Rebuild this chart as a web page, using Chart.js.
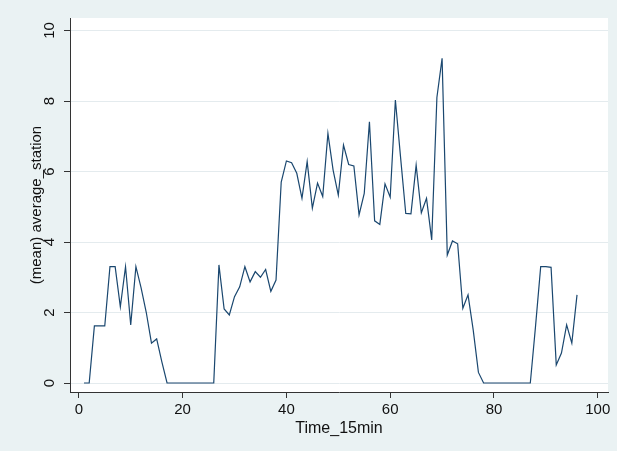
<!DOCTYPE html>
<html>
<head>
<meta charset="utf-8">
<script src="https://cdn.jsdelivr.net/npm/chart.js@4.4.1/dist/chart.umd.min.js"></script>
<style>
  html, body { margin: 0; padding: 0; background: #EAF2F3; }
  #c { display: block; }
</style>
</head>
<body>
<canvas id="c" width="617" height="451"></canvas>
<script>
// Time_15min (1..96)
const timeSlots = [
  1,2,3,4,5,6,7,8,9,10,11,12,13,14,15,16,17,18,19,20,
  21,22,23,24,25,26,27,28,29,30,31,32,33,34,35,36,37,38,39,40,
  41,42,43,44,45,46,47,48,49,50,51,52,53,54,55,56,57,58,59,60,
  61,62,63,64,65,66,67,68,69,70,71,72,73,74,75,76,77,78,79,80,
  81,82,83,84,85,86,87,88,89,90,91,92,93,94,95,96
];
// (mean) average_station
const averageStation = [
  0,0,1.62,1.62,1.62,3.3,3.3,2.16,3.3,1.65,3.3,2.7,2.0,1.13,1.25,0.6,0,0,0,0,
  0,0,0,0,0,0,3.35,2.1,1.93,2.45,2.73,3.3,2.87,3.16,3.0,3.22,2.6,2.92,5.7,6.3,
  6.25,5.95,5.24,6.28,4.96,5.67,5.29,7.08,6.04,5.33,6.75,6.2,6.16,4.77,5.38,7.41,4.6,4.5,5.65,5.27,
  8.03,6.4,4.81,4.8,6.18,4.83,5.24,4.06,8.1,9.21,3.63,4.03,3.95,2.12,2.5,1.5,0.3,0,0,0,
  0,0,0,0,0,0,0,1.6,3.3,3.3,3.28,0.51,0.85,1.65,1.13,2.5
];
const xTicks = [0, 20, 40, 60, 80, 100];
const yTicks = [0, 2, 4, 6, 8, 10];
const xTitle = 'Time_15min';
const yTitle = '(mean) average_station';

const FONT = "'Liberation Sans', Arial, sans-serif";

const bgPlugin = {
  id: 'bg',
  beforeDraw(chart) {
    const ctx = chart.ctx;
    ctx.save();
    ctx.fillStyle = '#EAF2F3';
    ctx.fillRect(0, 0, chart.width, chart.height);
    const a = chart.chartArea;
    ctx.fillStyle = '#FFFFFF';
    ctx.fillRect(a.left, a.top, a.right - a.left, a.bottom - a.top);
    ctx.restore();
  }
};

const yLabelPlugin = {
  id: 'yRotLabels',
  afterDraw(chart) {
    const ctx = chart.ctx;
    const y = chart.scales.y;
    ctx.save();
    ctx.fillStyle = '#111111';
    ctx.font = '15px ' + FONT;
    ctx.textAlign = 'center';
    ctx.textBaseline = 'alphabetic';
    yTicks.forEach(v => {
      const py = y.getPixelForValue(v);
      ctx.save();
      ctx.translate(53.5, py);
      ctx.rotate(-Math.PI / 2);
      ctx.fillText(String(v), 0, 0);
      ctx.restore();
    });
    ctx.restore();
  }
};

new Chart(document.getElementById('c'), {
  type: 'line',
  data: {
    datasets: [{
      data: timeSlots.map((t, i) => ({ x: t, y: averageStation[i] })),
      borderColor: '#1A476F',
      borderWidth: 1.2,
      pointRadius: 0,
      tension: 0,
      fill: false
    }]
  },
  options: {
    responsive: false,
    animation: false,
    devicePixelRatio: 1,
    layout: { padding: { left: 0, top: 18, right: 9, bottom: 0 } },
    plugins: { legend: { display: false }, tooltip: { enabled: false } },
    scales: {
      x: {
        type: 'linear',
        min: -1.7,
        max: 101.97,
        afterBuildTicks(s) { s.ticks = xTicks.map(v => ({ value: v })); },
        afterFit(s) { s.height = 59; },
        grid: { drawOnChartArea: false, drawTicks: true, tickLength: 6, tickColor: '#333333', color: '#333333' },
        border: { display: true, color: '#333333', width: 1 },
        ticks: { color: '#111111', font: { family: FONT, size: 15 }, padding: 3, maxRotation: 0, autoSkip: false },
        title: { display: true, text: xTitle, color: '#111111', font: { family: FONT, size: 16 }, padding: { top: 0, bottom: 13 } }
      },
      y: {
        type: 'linear',
        min: -0.255,
        max: 10.355,
        afterBuildTicks(s) { s.ticks = yTicks.map(v => ({ value: v })); },
        afterFit(s) { s.width = 70; },
        grid: { drawOnChartArea: true, drawTicks: true, tickLength: 6, tickColor: '#333333', color: '#E4EBEE', lineWidth: 1 },
        border: { display: true, color: '#333333', width: 1 },
        ticks: { display: false },
        title: { display: true, text: yTitle, color: '#111111', font: { family: FONT, size: 15 }, padding: { top: 28, bottom: 0 } }
      }
    }
  },
  plugins: [bgPlugin, yLabelPlugin]
});
</script>
</body>
</html>
